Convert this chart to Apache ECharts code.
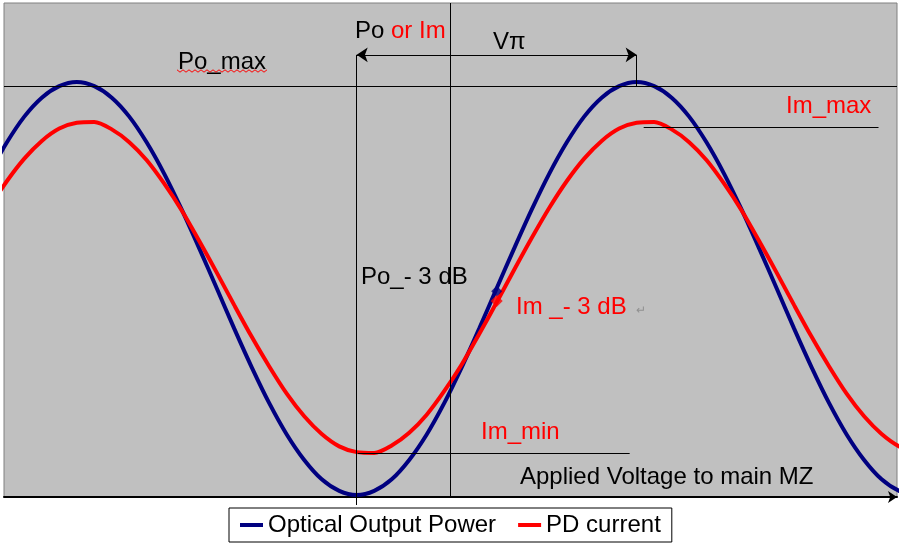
<!DOCTYPE html>
<html>
<head>
<meta charset="utf-8">
<script src="https://cdn.jsdelivr.net/npm/echarts@6/dist/echarts.min.js"></script>
<style>html,body{margin:0;padding:0;background:#fff;}#c{width:900px;height:550px;}</style>
</head>
<body>
<div id="c"></div>
<script>
// x in units of Vpi (0 = point of minimum optical power)
const voltage = [-1.375, -1.3125, -1.25, -1.1875, -1.125, -1.0625, -1, -0.9375, -0.875, -0.8125, -0.75, -0.6875,
  -0.625, -0.5625, -0.5, -0.4375, -0.375, -0.3125, -0.25, -0.1875, -0.125, -0.0625, 0,
  0.0625, 0.125, 0.1875, 0.25, 0.3125, 0.375, 0.4375, 0.5, 0.5625, 0.625, 0.6875, 0.75, 0.8125, 0.875, 0.9375, 1,
  1.0625, 1.125, 1.1875, 1.25, 1.3125, 1.375, 1.4375, 1.5, 1.5625, 1.625, 1.6875, 1.75, 1.8125, 1.875, 1.9375, 2.0];
const opticalPower = [0.698, 0.785, 0.861, 0.924, 0.970, 0.998, 1.008, 0.998, 0.970, 0.924, 0.861, 0.785,
  0.698, 0.604, 0.507, 0.409, 0.315, 0.228, 0.152, 0.090, 0.043, 0.015, 0.005,
  0.015, 0.043, 0.090, 0.152, 0.228, 0.315, 0.409, 0.507, 0.604, 0.698, 0.785, 0.861, 0.924, 0.970, 0.998, 1.008,
  0.998, 0.970, 0.924, 0.861, 0.785, 0.698, 0.604, 0.507, 0.409, 0.315, 0.228, 0.152, 0.090, 0.043, 0.015, 0.005];
const pdCurrent = [0.629, 0.702, 0.767, 0.822, 0.865, 0.895, 0.909, 0.911, 0.893, 0.862, 0.818, 0.761,
  0.696, 0.622, 0.545, 0.466, 0.389, 0.317, 0.251, 0.196, 0.153, 0.123, 0.109,
  0.107, 0.125, 0.156, 0.200, 0.257, 0.322, 0.396, 0.473, 0.552, 0.629, 0.702, 0.767, 0.822, 0.865, 0.895, 0.909,
  0.911, 0.893, 0.862, 0.818, 0.761, 0.696, 0.622, 0.545, 0.466, 0.389, 0.317, 0.251, 0.196, 0.153, 0.123, 0.109];
const seriesNames = ['Optical Output Power', 'PD current'];
const markerVoltage = 0.5;
const markerPower = 0.500;
const markerCurrent = 0.476;
const poMax = 0.998;
const imMax = 0.897;
const imMin = 0.106;
const vpiLevel = 1.074;
const vpi = 1.0;
const gridLineX = 0.335;

const xMin = -1.26, xMax = 1.93, yMin = 0, yMax = 1.2;

const zip = (xs, ys) => xs.map((x, i) => [x, ys[i]]);
const black = { color: '#000', width: 1, type: 'solid' };
const seg = (a, b, extra) => [Object.assign({ coord: a, symbol: 'none' }, extra && extra[0]), Object.assign({ coord: b, symbol: 'none' }, extra && extra[1])];

// wavy underline points (spell-check decoration)
const wave = [];
for (let i = 0; i <= 30; i++) wave.push([177 + i * 3, 71 + (i % 2 === 0 ? -1.2 : 1.2)]);

const font = '"Liberation Sans", Arial, sans-serif';
const txt = (x, y, text, color, size, align) => ({
  type: 'text', x: x, y: y, silent: true,
  style: { text: text, fill: color, font: (size || 24) + 'px ' + font, textAlign: align || 'left', textVerticalAlign: 'middle' }
});

const chart = echarts.init(document.getElementById('c'));
chart.setOption({
  animation: false,
  grid: { left: 4, top: 3, right: 3, bottom: 53, show: true, backgroundColor: '#C0C0C0', borderColor: '#808080', borderWidth: 1 },
  xAxis: {
    type: 'value', min: xMin, max: xMax,
    axisLine: { show: true, onZero: false, symbol: ['none', 'arrow'], symbolSize: [9, 9], lineStyle: { color: '#000', width: 2 } },
    axisTick: { show: true, customValues: [0], length: 8, lineStyle: { color: '#000', width: 1 } },
    axisLabel: { show: false },
    splitLine: { show: false }
  },
  yAxis: { type: 'value', min: yMin, max: yMax, show: false, splitLine: { show: false } },
  legend: {
    data: seriesNames, left: 229, top: 508, orient: 'horizontal',
    backgroundColor: '#fff', borderColor: '#000', borderWidth: 1, borderRadius: 0,
    padding: [4, 11], itemGap: 22, itemWidth: 23, itemHeight: 4, icon: 'rect',
    textStyle: { fontFamily: font, fontSize: 24, color: '#000', lineHeight: 26 },
    selectedMode: false
  },
  series: [
    {
      name: seriesNames[0], type: 'line', data: zip(voltage, opticalPower), smooth: 0.3, showSymbol: false,
      lineStyle: { color: '#000080', width: 4 }, itemStyle: { color: '#000080' }, z: 3,
      markLine: {
        silent: true, symbol: 'none', symbolSize: 11, label: { show: false }, lineStyle: black, animation: false,
        data: [
          seg([xMin, poMax], [xMax, poMax]),
          seg([0, vpiLevel], [0, 0]),
          seg([gridLineX, 0], [gridLineX, yMax]),
          seg([vpi, vpiLevel], [vpi, poMax]),
          seg([0, vpiLevel], [vpi, vpiLevel], [{ symbol: 'arrow' }, { symbol: 'arrow' }]),
          seg([1.025, imMax], [1.864, imMax]),
          seg([0.004, imMin], [0.975, imMin])
        ]
      }
    },
    {
      name: seriesNames[1], type: 'line', data: zip(voltage, pdCurrent), smooth: 0.3, showSymbol: false,
      lineStyle: { color: '#FF0000', width: 4 }, itemStyle: { color: '#FF0000' }, z: 4
    },
    {
      type: 'scatter', data: [[markerVoltage, markerPower]], symbol: 'diamond', symbolSize: 11,
      itemStyle: { color: '#000080' }, z: 6, silent: true
    },
    {
      type: 'scatter', data: [[markerVoltage, markerCurrent]], symbol: 'diamond', symbolSize: 12,
      itemStyle: { color: '#FF0000' }, z: 7, silent: true
    }
  ],
  graphic: [
    txt(178, 62, 'Po_max', '#000'),
    { type: 'polyline', silent: true, shape: { points: wave }, style: { stroke: '#FF0000', lineWidth: 1, fill: null } },
    txt(355, 31, 'Po', '#000'),
    txt(391, 31, 'or Im', '#FF0000'),
    txt(493, 42, 'V\u03C0', '#000'),
    txt(786, 106, 'Im_max', '#FF0000'),
    txt(361, 277, 'Po_- 3 dB', '#000'),
    txt(516, 307, 'Im _- 3 dB', '#FF0000'),
    txt(636, 311, '\u21B5', '#909090', 12),
    txt(481, 432, 'Im_min', '#FF0000'),
    txt(520, 477, 'Applied Voltage to main MZ', '#000')
  ]
});
</script>
</body>
</html>
